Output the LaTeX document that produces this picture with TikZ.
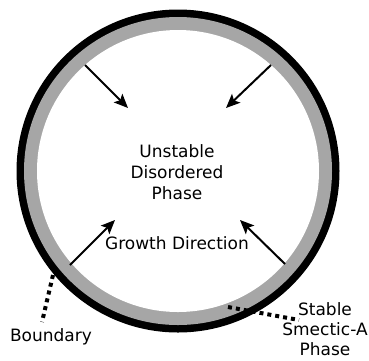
\documentclass[tikz,border=0pt]{standalone}
\usepackage{fontspec}
\setmainfont{DejaVu Sans}
\usetikzlibrary{arrows.meta}
\begin{document}
\begin{tikzpicture}[x=1pt,y=-1pt,font=\fontsize{17}{21}\selectfont,
  gr/.style={-{Stealth[length=14pt,width=12pt,inset=3pt]},line width=2pt},
  dt/.style={line width=4pt,dash pattern=on 4pt off 4pt},
  lb/.style={align=center,inner sep=0pt}]
  \useasboundingbox (0,0) rectangle (369,360);
  % rings
  \fill[black] (178,171) circle (161.5);
  \fill[black!35] (178,171) circle (154);
  \fill[white] (178,171) circle (141);
  % arrows
  \coordinate (a1) at (85,65);   \coordinate (b1) at (128,108);
  \coordinate (a2) at (271,65);  \coordinate (b2) at (226,108);
  \coordinate (a3) at (70,265);  \coordinate (b3) at (115,220);
  \coordinate (a4) at (285,264); \coordinate (b4) at (240,220);
  \foreach \i in {1,...,4}{\draw[gr] (a\i) -- (b\i);}
  % labels
  \node[lb] (ph) at (177,172){Unstable\\Disordered\\Phase};
  \node[lb] (gd) at (177,243){Growth Direction};
  \node[lb] (bd) at (51,337){Boundary};
  \node[lb,font=\fontsize{17}{20}\selectfont] (sm) at (325,329){Stable\\Smectic-A\\Phase};
  \coordinate (c1) at (53,275);
  \coordinate (c2) at (42,322);
  \coordinate (c3) at (228,307);
  \coordinate (c4) at (299,320);
  \draw[dt] (c1) -- (c2);
  \draw[dt] (c3) -- (c4);
\end{tikzpicture}
\end{document}
